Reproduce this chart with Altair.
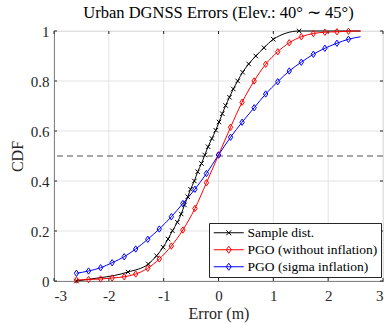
import altair as alt
import pandas as pd

# ---- data ----
sample_x = [-2.59, -2.2, -1.9, -1.65, -1.28, -1.13, -1.01, -0.92, -0.84, -0.75, -0.68, -0.62,
            -0.56, -0.51, -0.44, -0.38, -0.31, -0.25, -0.19, -0.12, -0.05, 0.01, 0.07, 0.13,
            0.20, 0.27, 0.35, 0.44, 0.55, 0.68, 0.83, 1.0, 1.47, 2.59]
sample_y = [0.0, 0.012, 0.022, 0.036, 0.068, 0.101, 0.135, 0.168, 0.201, 0.235, 0.268, 0.304,
            0.337, 0.367, 0.40, 0.437, 0.47, 0.504, 0.537, 0.570, 0.603, 0.636, 0.669, 0.702,
            0.735, 0.768, 0.80, 0.835, 0.868, 0.90, 0.933, 0.967, 1.0, 1.0]
sample_mark = [True, False, False] + [True] * 30 + [False]

pgo_x = [-2.59, -2.37, -2.15, -1.94, -1.72, -1.51, -1.29, -1.08, -0.86, -0.65, -0.43, -0.22,
         0.0, 0.22, 0.43, 0.65, 0.86, 1.08, 1.29, 1.51, 1.73, 1.94, 2.16, 2.37, 2.59]
pgo_y = [0.004, 0.006, 0.008, 0.012, 0.017, 0.028, 0.051, 0.088, 0.14, 0.204, 0.29, 0.393,
         0.504, 0.615, 0.715, 0.80, 0.867, 0.917, 0.953, 0.977, 0.99, 0.995, 0.997, 0.999, 1.0]
infl_y = [0.031, 0.04, 0.053, 0.073, 0.097, 0.128, 0.167, 0.208, 0.257, 0.31, 0.367, 0.43,
          0.504, 0.575, 0.635, 0.693, 0.748, 0.797, 0.84, 0.875, 0.907, 0.931, 0.951, 0.967, 0.977]
pgo_mark = [True] * 24 + [False]

series = ["Sample dist.", "PGO (without inflation)", "PGO (sigma inflation)"]
colors = ["#000000", "#ff0000", "#0000ff"]
x_ticks = [-3, -2, -1, 0, 1, 2, 3]
y_ticks = [0, 0.2, 0.4, 0.6, 0.8, 1]
ref_level = [0.5]

rows = []
for x, y, m in zip(sample_x, sample_y, sample_mark):
    rows.append({"x": x, "y": y, "s": series[0], "m": m, "o": len(rows)})
for x, y, m in zip(pgo_x, pgo_y, pgo_mark):
    rows.append({"x": x, "y": y, "s": series[1], "m": m, "o": len(rows)})
for x, y, m in zip(pgo_x, infl_y, pgo_mark):
    rows.append({"x": x, "y": y, "s": series[2], "m": m, "o": len(rows)})
df = pd.DataFrame(rows)

FONT = "Liberation Serif"
AX = "#262626"
W, H = 329, 250

xs = alt.Scale(domain=[-3, 3], nice=False, zero=False)
ys = alt.Scale(domain=[0, 1], nice=False, zero=False)
cs = alt.Scale(domain=series, range=colors)

X_PATH = "M-1,-1L1,1M-1,1L1,-1"
D_PATH = "M0,-1L0.7,0L0,1L-0.7,0Z"
# legend symbols: size 100 -> 1 path unit = 5 px; line 30 px wide, marker in its middle
LEG_X = "M-1,0H5M1.5,-0.5L2.5,0.5M1.5,0.5L2.5,-0.5"
LEG_D = "M-1,0H5M2,-0.7L2.5,0L2,0.7L1.5,0Z"
shp = alt.Scale(domain=series, range=[LEG_X, LEG_D, LEG_D])

base = alt.Chart(df)

grid_x = alt.Chart(pd.DataFrame({"v": x_ticks})).mark_rule(color="#e3e3e3", strokeWidth=1).encode(
    x=alt.X("v:Q", scale=xs))
grid_y = alt.Chart(pd.DataFrame({"v": y_ticks})).mark_rule(color="#e3e3e3", strokeWidth=1).encode(
    y=alt.Y("v:Q", scale=ys))

dash = alt.Chart(pd.DataFrame({"v": ref_level})).mark_rule(
    color="#505050", strokeWidth=1.2, strokeDash=[6, 4]).encode(y=alt.Y("v:Q", scale=ys))

lines = base.mark_line(strokeWidth=1, interpolate="monotone").encode(
    x=alt.X("x:Q", scale=xs, title="Error (m)",
            axis=alt.Axis(values=x_ticks, labelExpr="'' + datum.value", grid=False,
                          tickSize=0, labelPadding=7, domainColor=AX, labelColor=AX,
                          titleColor=AX, labelFont=FONT, titleFont=FONT, labelFontSize=15,
                          titleFontSize=16, titleFontWeight="normal", titlePadding=2)),
    y=alt.Y("y:Q", scale=ys, title="CDF",
            axis=alt.Axis(values=y_ticks, format="~g", grid=False, tickSize=0,
                          labelPadding=5, domainColor=AX, labelColor=AX, titleColor=AX,
                          labelFont=FONT, titleFont=FONT, labelFontSize=15, titleFontSize=16,
                          titleFontWeight="normal", titlePadding=5)),
    color=alt.Color("s:N", scale=cs, sort=series, legend=None),
    order="o:Q",
)

leg = dict(orient="none", legendX=155, legendY=192, fillColor="white", strokeColor=AX,
           padding=3, labelFont=FONT, labelFontSize=13.5, labelColor="black",
           symbolSize=100, symbolStrokeWidth=1, labelOffset=22, rowPadding=2,
           labelLimit=300, title=None, symbolFillColor="transparent")

legend_layer = base.transform_filter("false").mark_point(filled=False, opacity=1, strokeWidth=1).encode(
    x=alt.X("x:Q", scale=xs), y=alt.Y("y:Q", scale=ys),
    color=alt.Color("s:N", scale=cs, sort=series, title=None, legend=alt.Legend(**leg)),
    shape=alt.Shape("s:N", scale=shp, sort=series, title=None, legend=alt.Legend(**leg)),
)

x_pts = base.transform_filter("datum.m && datum.s === 'Sample dist.'").mark_point(
    shape=X_PATH, filled=False, size=20, strokeWidth=1, opacity=1).encode(
    x=alt.X("x:Q", scale=xs), y=alt.Y("y:Q", scale=ys),
    color=alt.Color("s:N", scale=cs, legend=None))

d_pts = base.transform_filter("datum.m && datum.s !== 'Sample dist.'").mark_point(
    shape=D_PATH, filled=False, size=40, strokeWidth=1, opacity=1).encode(
    x=alt.X("x:Q", scale=xs), y=alt.Y("y:Q", scale=ys),
    color=alt.Color("s:N", scale=cs, legend=None))

# inward tick marks (MATLAB style) on all four sides
tk = 3
xt = pd.DataFrame({"v": x_ticks})
yt = pd.DataFrame({"v": y_ticks})
ticks_b = alt.Chart(xt).mark_rule(color=AX).encode(x=alt.X("v:Q", scale=xs), y=alt.value(H), y2=alt.value(H - tk))
ticks_t = alt.Chart(xt).mark_rule(color=AX).encode(x=alt.X("v:Q", scale=xs), y=alt.value(0), y2=alt.value(tk))
ticks_l = alt.Chart(yt).mark_rule(color=AX).encode(y=alt.Y("v:Q", scale=ys), x=alt.value(0), x2=alt.value(tk))
ticks_r = alt.Chart(yt).mark_rule(color=AX).encode(y=alt.Y("v:Q", scale=ys), x=alt.value(W), x2=alt.value(W - tk))

chart = alt.layer(grid_x, grid_y, dash, lines, x_pts, d_pts, legend_layer,
                  ticks_b, ticks_t, ticks_l, ticks_r).resolve_legend(
    color="independent", shape="independent").properties(
    width=W, height=H,
    title=alt.TitleParams("Urban DGNSS Errors (Elev.: 40° ∼ 45°)", font=FONT, fontSize=16.5,
                          fontWeight="normal", color="black", offset=3),
    autosize=alt.AutoSizeParams(type="none"),
    padding={"left": 54, "top": 31, "right": 1, "bottom": 42},
).configure_view(stroke=AX, strokeWidth=1).configure(background="white")

chart.save("out.html", embed_options={"renderer": "svg", "actions": False})
